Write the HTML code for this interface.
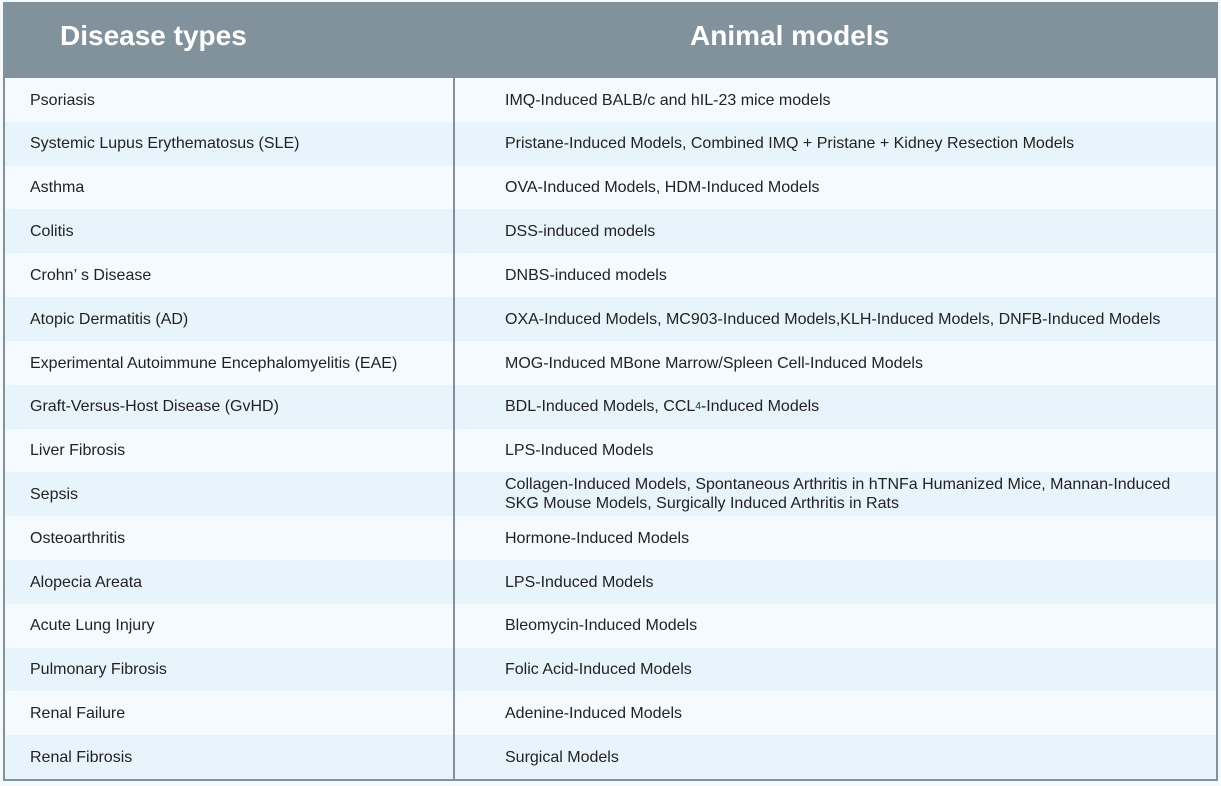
<!DOCTYPE html>
<html><head><meta charset="utf-8"><style>
body{margin:0;width:1221px;height:786px;background:#f4f9fc;font-family:"Liberation Sans",sans-serif;position:relative;overflow:hidden}
.hdr{position:absolute;left:3px;top:2px;width:1215px;height:76px;background:#81929c}
.h{position:absolute;top:18px;color:#fff;font-weight:bold;font-size:28px}
.row{position:absolute;left:3px;width:1215px;height:44px}
.c{position:absolute;top:0;height:100%;display:flex;align-items:center;font-size:16px;color:#222;line-height:19px}
.vl{position:absolute;background:#81929c}
</style></head><body>
<div class="hdr">
<div class="h" style="left:57px">Disease types</div>
<div class="h" style="left:687px">Animal models</div>
</div>
<div id="rows"></div>
<div class="vl" style="left:3px;top:78px;width:2px;height:703px"></div>
<div class="vl" style="left:453px;top:78px;width:2px;height:703px"></div>
<div class="vl" style="left:1216px;top:78px;width:2px;height:703px"></div>
<div class="vl" style="left:3px;top:779px;width:1215px;height:2px"></div>
<script>
const diseases=["Psoriasis","Systemic Lupus Erythematosus (SLE)","Asthma","Colitis","Crohn’ s Disease","Atopic Dermatitis (AD)","Experimental Autoimmune Encephalomyelitis (EAE)","Graft-Versus-Host Disease (GvHD)","Liver Fibrosis","Sepsis","Osteoarthritis","Alopecia Areata","Acute Lung Injury","Pulmonary Fibrosis","Renal Failure","Renal Fibrosis"];
const models=["IMQ-Induced BALB/c and hIL-23 mice models","Pristane-Induced Models, Combined IMQ + Pristane + Kidney Resection Models","OVA-Induced Models, HDM-Induced Models","DSS-induced models","DNBS-induced models","OXA-Induced Models, MC903-Induced Models,KLH-Induced Models, DNFB-Induced Models","MOG-Induced MBone Marrow/Spleen Cell-Induced Models","BDL-Induced Models, CCL<sub style=\"font-size:10px\">4</sub>-Induced Models","LPS-Induced Models","Collagen-Induced Models, Spontaneous Arthritis in hTNFa Humanized Mice, Mannan-Induced SKG Mouse Models, Surgically Induced Arthritis in Rats","Hormone-Induced Models","LPS-Induced Models","Bleomycin-Induced Models","Folic Acid-Induced Models","Adenine-Induced Models","Surgical Models"];
const wrap=document.getElementById('rows');
const h=701/16;
diseases.forEach((d,i)=>{
const r=document.createElement('div');r.className='row';


r.style.top=(78+i*h)+'px';r.style.height=(h+0.5)+'px';
r.style.background=i%2?'#e8f4fc':'#f5fafe';
const a=document.createElement('div');a.className='c';a.style.left='27px';a.textContent=d;


const b=document.createElement('div');b.className='c';b.style.left='502px';b.style.width='700px';b.innerHTML=models[i];


r.appendChild(a);r.appendChild(b);wrap.appendChild(r);
});
</script>
</body></html>
